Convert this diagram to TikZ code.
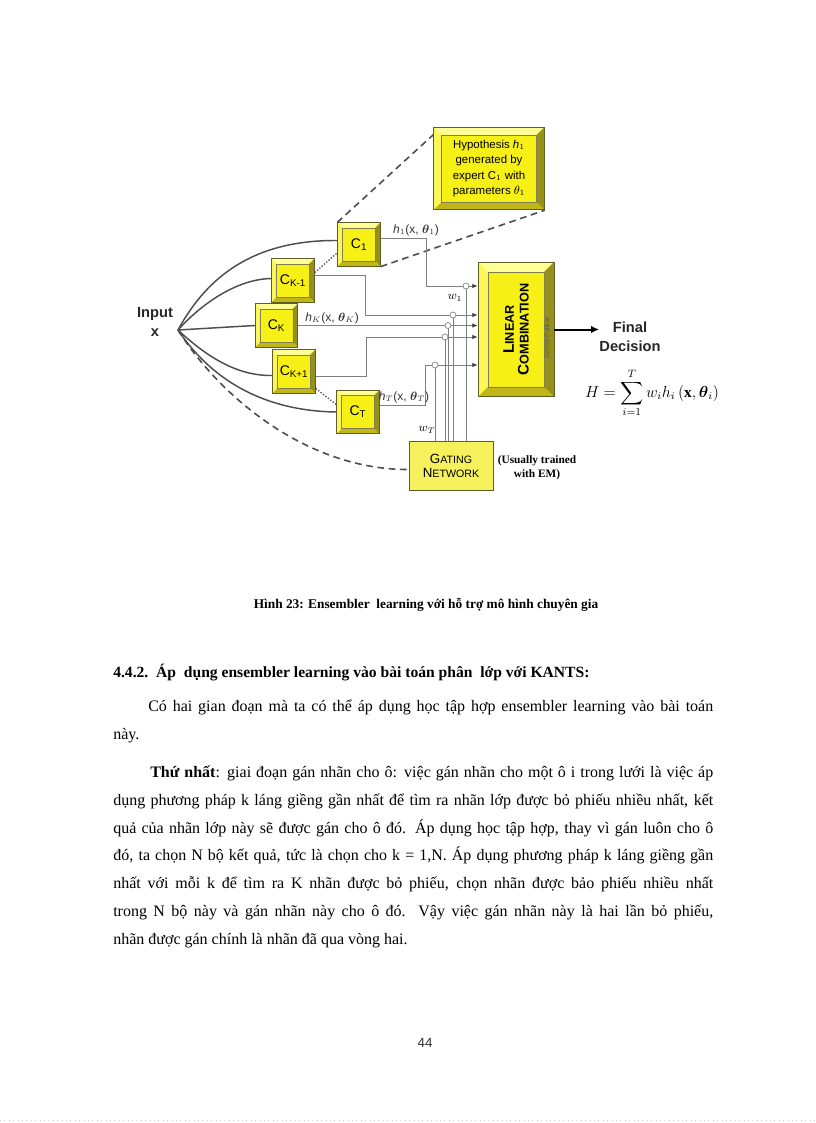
\documentclass[tikz,border=0pt]{standalone}
\usepackage{fontspec}
\usepackage{amsmath}
\setmainfont{Liberation Serif}
\setsansfont{Liberation Sans}
\usetikzlibrary{calc,arrows.meta}
\definecolor{faceYellow}{RGB}{246,240,22}
\definecolor{bevTop}{RGB}{255,255,150}
\definecolor{bevLeft}{RGB}{252,246,90}
\definecolor{bevRight}{RGB}{150,144,24}
\definecolor{bevBottom}{RGB}{192,182,24}
\definecolor{edgeOlive}{RGB}{96,94,40}
\definecolor{gateYellow}{RGB}{246,240,92}
\definecolor{wireGray}{RGB}{128,128,128}
\definecolor{feedGray}{RGB}{78,78,78}

\newcommand{\capfirst}[2]{{\fontsize{#1}{0}\selectfont #2}}
\newcommand{\jline}[2]{\hbox to #1{#2}}

\tikzset{
  bevelbox/.style={draw=edgeOlive, line width=0.6pt, fill=faceYellow,
    path picture={
      \path (path picture bounding box.north west) coordinate (pa)
            (path picture bounding box.north east) coordinate (pb)
            (path picture bounding box.south east) coordinate (pc)
            (path picture bounding box.south west) coordinate (pd);
      \fill[bevTop] (pa) -- (pb) -- ([shift={(-#1,#1)}]pb) -- ([shift={(#1,#1)}]pa) -- cycle;
      \fill[bevLeft] (pa) -- ([shift={(#1,#1)}]pa) -- ([shift={(#1,-#1)}]pd) -- (pd) -- cycle;
      \fill[bevRight] (pb) -- (pc) -- ([shift={(-#1,-#1)}]pc) -- ([shift={(-#1,#1)}]pb) -- cycle;
      \fill[bevBottom] (pd) -- ([shift={(#1,-#1)}]pd) -- ([shift={(-#1,-#1)}]pc) -- (pc) -- cycle;
      \draw[edgeOlive!80, line width=0.3pt] ([shift={(#1,#1)}]pa) rectangle ([shift={(-#1,-#1)}]pc);
    }}
}

\begin{document}
\begin{tikzpicture}[x=0.75pt, y=-0.75pt, every node/.style={inner sep=0pt}]
  \tikzset{
    cbox/.style={bevelbox=5, minimum width=32pt, minimum height=32.5pt, font=\sffamily\fontsize{10.5}{12}\selectfont},
    wire/.style={draw=wireGray, line width=0.6pt},
    into/.style={wire, -{Latex[length=4pt, width=3.4pt, color=black!75]}},
    feed/.style={draw=feedGray, line width=1.1pt},
    zoomline/.style={draw=feedGray, line width=1.2pt, dash pattern=on 5pt off 3.5pt},
    etc/.style={draw=feedGray, line width=1pt, dash pattern=on 1pt off 1.3pt},
    jdot/.style={circle, draw=wireGray, fill=white, line width=0.5pt, minimum size=4.5pt},
    lab/.style={font=\sffamily\fontsize{9}{10}\selectfont, text=black!80},
    body/.style={anchor=base west, font=\fontsize{12}{14}\selectfont}
  }

  \path[use as bounding box, fill=white] (0,0) rectangle (816,1123);

  % experts
  \node[cbox] (c1) at (359,244.5) {C\textsubscript{1}};
  \node[cbox] (ck1) at (293,280.5) {C\textsubscript{K-1}};
  \node[cbox] (ck) at (276.5,325.5) {C\textsubscript{K}};
  \node[cbox] (ckp1) at (294,371.5) {C\textsubscript{K+1}};
  \node[cbox] (ct) at (358,412) {C\textsubscript{T}};

  % hypothesis call-out
  \node[bevelbox=8, minimum width=83pt, minimum height=62pt, align=center,
        font=\sffamily\fontsize{8.6}{11.5}\selectfont] (hyp) at (489,168.5)
        {Hypothesis \textit{h}$_1$\\generated by\\expert C$_1$ with\\parameters $\theta_1$};

  % combiner and gate
  \node[bevelbox=10, minimum width=57pt, minimum height=101pt] (lc) at (516,329.5) {};
  \node[rotate=90, align=center, font=\sffamily\bfseries\fontsize{9.5}{11}\selectfont] (lctext) at (lc)
        {\capfirst{11.5}{L}INEAR\\\capfirst{11.5}{C}OMBINATION};
  \node[rotate=90, font=\sffamily\fontsize{5}{6}\selectfont, text=black!65] (cpr) at (547,338) {\textcopyright 2008 Polikar};
  \node[draw=edgeOlive, fill=gateYellow, line width=0.6pt, minimum width=63pt, minimum height=36.75pt,
        align=center, font=\sffamily\fontsize{8}{10.5}\selectfont] (gate) at (451,465.5)
        {\capfirst{10}{G}ATING\\\capfirst{10}{N}ETWORK};
  \node[align=center, font=\bfseries\fontsize{8.5}{10.5}\selectfont] (em) at (537,468) {(Usually trained\\with EM)};

  % input and output
  \node[align=center, font=\sffamily\bfseries\fontsize{11}{14.25}\selectfont, text=black!85] (inp) at (155,322) {Input\\x};
  \coordinate (fan) at (178,330);
  \node[align=center, font=\sffamily\bfseries\fontsize{11}{14.25}\selectfont, text=black!85] (fin) at (630,337) {Final\\Decision};
  \node[font=\fontsize{11.5}{13}\selectfont] (hsum) at (652,393)
        {$\displaystyle H=\sum_{i=1}^{T} w_i h_i\left(\mathbf{x},\boldsymbol{\theta}_i\right)$};

  % input feeds
  \draw[feed] (fan) .. controls (208,275) and (255,240) .. ([yshift=3pt]c1.west);
  \draw[feed] (fan) .. controls (205,300) and (240,279) .. ([yshift=1.5pt]ck1.west);
  \draw[feed] (fan) -- (ck.west);
  \draw[feed] (fan) .. controls (210,360) and (240,376) .. ([yshift=-3pt]ckp1.west);
  \draw[feed] (fan) .. controls (215,385) and (270,411) .. (ct.west);
  \draw[zoomline] (fan) .. controls (222,400) and (310,470) .. ([yshift=-3pt]gate.west);

  % skipped experts
  \draw[etc] (ck1.20) -- (c1.201);
  \draw[etc] (ckp1.322) -- (ct.161);

  % zoom onto C1
  \draw[zoomline] (c1.north west) -- ([yshift=-6pt]hyp.north west);
  \draw[zoomline] (c1.south east) -- (hyp.south east);

  % expert outputs
  \coordinate (t1) at (426,238);
  \coordinate (t2) at (365,275);
  \coordinate (t4) at (366,376);
  \coordinate (t5) at (425,405);
  \coordinate (j1) at (466,286);
  \coordinate (j2) at (453,315);
  \coordinate (j3) at (448,325.5);
  \coordinate (j4) at (445,337);
  \coordinate (j5) at (435,365);
  \draw[into] (c1.east |- t1) -- (t1) |- (lc.west |- j1);
  \draw[into] (ck1.east |- t2) -- (t2) |- (lc.west |- j2);
  \draw[into] (ck.east) -- (ck.east -| lc.west);
  \draw[into] (ckp1.east |- t4) -- (t4) |- (lc.west |- j4);
  \draw[into] (ct.east |- t5) -- (t5) |- (lc.west |- j5);

  % gating weights
  \foreach \j in {j1,j2,j3,j4,j5}
    \draw[wire] (gate.north -| \j) -- (\j);
  \foreach \j in {j1,j2,j3,j4,j5}
    \node[jdot] (d\j) at (\j) {};

  \node[lab] (h1) at (416,230) {\textit{h}$_1$(x, $\boldsymbol{\theta}_1$)};
  \node[lab] (hk) at (332,318) {\textit{h}$_K$(x, $\boldsymbol{\theta}_K$)};
  \node[lab] (ht) at (404,397) {\textit{h}$_T$(x, $\boldsymbol{\theta}_T$)};
  \node[font=\fontsize{9}{10}\selectfont] (w1) at (455,298) {$w_1$};
  \node[font=\fontsize{9}{10}\selectfont] (wt) at (427,430) {$w_T$};

  \draw[line width=1.5pt, -{Latex[length=6pt, width=5.5pt]}] (lc.east) -- (lc.east -| fin.west);

  % caption and text
  \node[font=\bfseries\fontsize{10}{12}\selectfont] (cap) at (426,605)
        {Hình 23: Ensembler\ \ learning với hỗ trợ mô hình chuyên gia};
  \node[anchor=base west, font=\bfseries\fontsize{11.7}{14}\selectfont] (sec) at (113,677)
        {4.4.2.\ \ Áp\ \ dụng ensembler learning vào bài toán phân\ \ lớp với KANTS:};

  \node[body] (l1) at (148,711) {\jline{423.75pt}{Có hai gian đoạn mà ta có thể áp dụng học tập hợp ensembler learning vào bài toán}};
  \node[body] (l2) at (113,739) {này.};
  \node[body] (l3) at (150,777) {\jline{422.25pt}{\textbf{Thứ nhất}: giai đoạn gán nhãn cho ô: việc gán nhãn cho một ô i trong lưới là việc áp}};
  \node[body] (l4) at (113,805) {\jline{450pt}{dụng phương pháp k láng giềng gần nhất để tìm ra nhãn lớp được bỏ phiếu nhiều nhất, kết}};
  \node[body] (l5) at (113,833) {\jline{450pt}{quả của nhãn lớp này sẽ được gán cho ô đó. Áp dụng học tập hợp, thay vì gán luôn cho ô}};
  \node[body] (l6) at (113,860) {\jline{450pt}{đó, ta chọn N bộ kết quả, tức là chọn cho k = 1,N. Áp dụng phương pháp k láng giềng gần}};
  \node[body] (l7) at (113,888) {\jline{450pt}{nhất với mỗi k để tìm ra K nhãn được bỏ phiếu, chọn nhãn được bảo phiếu nhiều nhất}};
  \node[body] (l8) at (113,916) {\jline{450pt}{trong N bộ này và gán nhãn này cho ô đó. Vậy việc gán nhãn này là hai lần bỏ phiếu,}};
  \node[body] (l9) at (113,944) {nhãn được gán chính là nhãn đã qua vòng hai.};

  \node[font=\sffamily\fontsize{10}{12}\selectfont, text=black!80] (pg) at (425,1043) {44};

  \draw[black!20, line width=0.6pt, dash pattern=on 0.8pt off 2.5pt] (0,1120) -- (816,1120);
\end{tikzpicture}
\end{document}
